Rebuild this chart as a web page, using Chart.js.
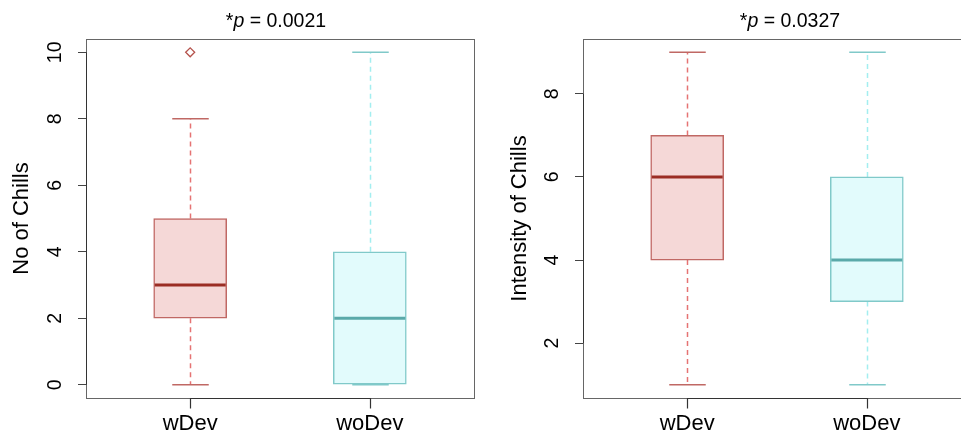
<!DOCTYPE html>
<html>
<head>
<meta charset="utf-8">
<script src="https://cdn.jsdelivr.net/npm/chart.js@4"></script>
<style>
  html, body { margin: 0; padding: 0; background: #fff; overflow: hidden; }
  #wrap { position: relative; width: 961px; height: 435px; overflow: hidden; }
  #left { position: absolute; left: 0; top: 0; }
  #right { position: absolute; left: 480px; top: 0; }
</style>
</head>
<body>
<div id="wrap">
  <canvas id="left" width="480" height="435"></canvas>
  <canvas id="right" width="497" height="435"></canvas>
</div>
<script>
"use strict";

// groups
var groups = ["wDev", "woDev"];

// No of Chills (boxplot stats per group)
var chillsMin = [0, 0];
var chillsQ1 = [2, 0];
var chillsMed = [3, 2];
var chillsQ3 = [5, 4];
var chillsMax = [8, 10];
var chillsOut = [[10], []];
var chillsTicks = [0, 2, 4, 6, 8, 10];

// Intensity of Chills
var intensityMin = [1, 1];
var intensityQ1 = [4, 3];
var intensityMed = [6, 4];
var intensityQ3 = [7, 6];
var intensityMax = [9, 9];
var intensityOut = [[], []];
var intensityTicks = [2, 4, 6, 8];

var pValues = ["0.0021", "0.0327"];
var yLabels = ["No of Chills", "Intensity of Chills"];

var FONT = "'Liberation Sans', Arial, Helvetica, sans-serif";
Chart.defaults.font.family = FONT;
Chart.defaults.color = "#000";

var fillCols = ["#f5d8d7", "#e2fbfc"];
var borderCols = ["#c06864", "#80c9c9"];
var medianCols = ["#9b2d24", "#5aa9a9"];
var whiskerCols = ["#e57373", "#a3eef0"];
var outCols = ["#b5524c", "#5aa9a9"];

// R style range: data range extended by 4 %
function extend(lo, hi) {
  var d = (hi - lo) * 0.04;
  return [lo - d, hi + d];
}

function seg(ctx, x1, y1, x2, y2) {
  ctx.beginPath();
  ctx.moveTo(x1, y1);
  ctx.lineTo(x2, y2);
  ctx.stroke();
}

var rBoxPlugin = {
  id: "rbox",
  beforeDatasetsDraw: function(chart, args, opts) {
    var ctx = chart.ctx, xs = chart.scales.x, ys = chart.scales.y;
    var meta = chart.getDatasetMeta(0);
    var s = opts.stats;
    ctx.save();
    ctx.lineWidth = 1.5;
    s.med.forEach(function(m, i) {
      var x = Math.round(xs.getPixelForValue(i + 1)) + 0.5;
      var half = meta.data[i].width / 4;
      var yMin = ys.getPixelForValue(s.min[i]), yMax = ys.getPixelForValue(s.max[i]);
      ctx.strokeStyle = whiskerCols[i];
      ctx.setLineDash([5, 4]);
      seg(ctx, x, ys.getPixelForValue(s.q3[i]), x, yMax);
      seg(ctx, x, ys.getPixelForValue(s.q1[i]), x, yMin);
      ctx.setLineDash([]);
      ctx.strokeStyle = borderCols[i];
      seg(ctx, x - half, yMax, x + half, yMax);
      seg(ctx, x - half, yMin, x + half, yMin);
    });
    ctx.restore();
  },
  afterDatasetsDraw: function(chart, args, opts) {
    var ctx = chart.ctx, xs = chart.scales.x, ys = chart.scales.y;
    var area = chart.chartArea;
    var meta = chart.getDatasetMeta(0);
    var s = opts.stats;
    ctx.save();

    // medians
    ctx.lineWidth = 3;
    s.med.forEach(function(m, i) {
      var x = xs.getPixelForValue(i + 1);
      var half = meta.data[i].width / 2;
      var y = ys.getPixelForValue(m);
      ctx.strokeStyle = medianCols[i];
      seg(ctx, x - half + 1, y, x + half - 1, y);
    });

    // frame
    ctx.lineWidth = 1;
    ctx.strokeStyle = "#666";
    ctx.strokeRect(Math.round(area.left) + 0.5, Math.round(area.top) + 0.5,
      Math.round(area.right - area.left), Math.round(area.bottom - area.top));

    // left axis line between first and last tick
    ctx.strokeStyle = "#333";
    var lx = Math.round(area.left) + 0.5;
    seg(ctx, lx, ys.getPixelForValue(ys.ticks[0].value),
      lx, ys.getPixelForValue(ys.ticks[ys.ticks.length - 1].value));

    // rotated y tick labels
    ctx.fillStyle = "#000";
    ctx.font = "19.5px " + FONT;
    ctx.textAlign = "center";
    ctx.textBaseline = "middle";
    ys.ticks.forEach(function(t) {
      ctx.save();
      ctx.translate(area.left - 30, ys.getPixelForValue(t.value));
      ctx.rotate(-Math.PI / 2);
      ctx.fillText(String(t.value), 0, 0);
      ctx.restore();
    });

    // title: *p = value (p in italics)
    var parts = [["*", "normal"], ["p", "italic"], [" = " + opts.pValue, "normal"]];
    var total = 0;
    parts.forEach(function(p) {
      ctx.font = p[1] + " 19.5px " + FONT;
      p.push(ctx.measureText(p[0]).width);
      total += p[2];
    });
    var cx = (xs.getPixelForValue(1) + xs.getPixelForValue(2)) / 2 + opts.titleShift;
    var tx = cx - total / 2;
    ctx.textAlign = "left";
    ctx.textBaseline = "alphabetic";
    parts.forEach(function(p) {
      ctx.font = p[1] + " 19.5px " + FONT;
      ctx.fillText(p[0], tx, 27);
      tx += p[2];
    });
    ctx.restore();
  },
  afterDraw: function(chart) {
    // bottom axis line with tick marks at each group
    var ctx = chart.ctx, xs = chart.scales.x, area = chart.chartArea;
    var bx = Math.round(area.bottom) + 0.5;
    ctx.save();
    ctx.lineWidth = 1.2;
    ctx.strokeStyle = "#333";
    var x1 = Math.round(xs.getPixelForValue(1)) + 0.5;
    var x2 = Math.round(xs.getPixelForValue(groups.length)) + 0.5;
    ctx.beginPath();
    ctx.moveTo(x1, bx + 10);
    ctx.lineTo(x1, bx);
    ctx.lineTo(x2, bx);
    ctx.lineTo(x2, bx + 10);
    ctx.stroke();
    ctx.restore();
  }
};

function makeChart(id, st, ticks, yLabel, pValue, axisWidth, labelPad, titleShift) {
  var all = st.min.concat(st.max);
  st.out.forEach(function(o) { all = all.concat(o); });
  var yr = extend(Math.min.apply(null, all), Math.max.apply(null, all));
  var xr = extend(0.5, groups.length + 0.5);

  var outPts = [];
  st.out.forEach(function(o, i) {
    o.forEach(function(v) { outPts.push({ x: i + 1, y: v }); });
  });

  return new Chart(document.getElementById(id), {
    type: "bar",
    data: {
      datasets: [{
        type: "bar",
        data: groups.map(function(g, i) { return { x: i + 1, y: [st.q1[i], st.q3[i]] }; }),
        backgroundColor: fillCols,
        borderColor: borderCols,
        borderWidth: 1.5,
        borderSkipped: false,
        barThickness: 73
      }, {
        type: "scatter",
        data: outPts,
        pointStyle: "rectRot",
        radius: 4.5,
        borderWidth: 1.3,
        borderColor: outCols[0],
        backgroundColor: "rgba(0,0,0,0)"
      }]
    },
    options: {
      responsive: false,
      animation: false,
      events: [],
      layout: { padding: { top: 39, right: 6, left: 0, bottom: 0 } },
      plugins: {
        legend: { display: false },
        tooltip: { enabled: false },
        rbox: { stats: st, pValue: pValue, titleShift: titleShift }
      },
      scales: {
        x: {
          type: "linear",
          min: xr[0],
          max: xr[1],
          offset: false,
          afterBuildTicks: function(s) {
            s.ticks = groups.map(function(g, i) { return { value: i + 1 }; });
          },
          afterFit: function(s) { s.height = 37; },
          ticks: {
            font: { size: 22 },
            color: "#000",
            padding: 3,
            maxRotation: 0,
            callback: function(v) { return groups[v - 1]; }
          },
          grid: { display: false, drawOnChartArea: false, drawTicks: true, tickLength: 10 },
          border: { display: false }
        },
        y: {
          type: "linear",
          min: yr[0],
          max: yr[1],
          afterBuildTicks: function(s) {
            s.ticks = ticks.map(function(v) { return { value: v }; });
          },
          afterFit: function(s) { s.width = axisWidth; },
          ticks: { display: false },
          grid: { drawOnChartArea: false, drawTicks: true, tickLength: 8, color: "#444" },
          border: { display: false },
          title: {
            display: true,
            text: yLabel,
            font: { size: 22 },
            color: "#000",
            padding: { top: labelPad, bottom: 0 }
          }
        }
      }
    },
    plugins: [rBoxPlugin]
  });
}

makeChart("left",
  { min: chillsMin, q1: chillsQ1, med: chillsMed, q3: chillsQ3, max: chillsMax, out: chillsOut },
  chillsTicks, yLabels[0], pValues[0], 86, 9, -4);

makeChart("right",
  { min: intensityMin, q1: intensityQ1, med: intensityMed, q3: intensityQ3, max: intensityMax, out: intensityOut },
  intensityTicks, yLabels[1], pValues[1], 103, 27, 13);
</script>
</body>
</html>
